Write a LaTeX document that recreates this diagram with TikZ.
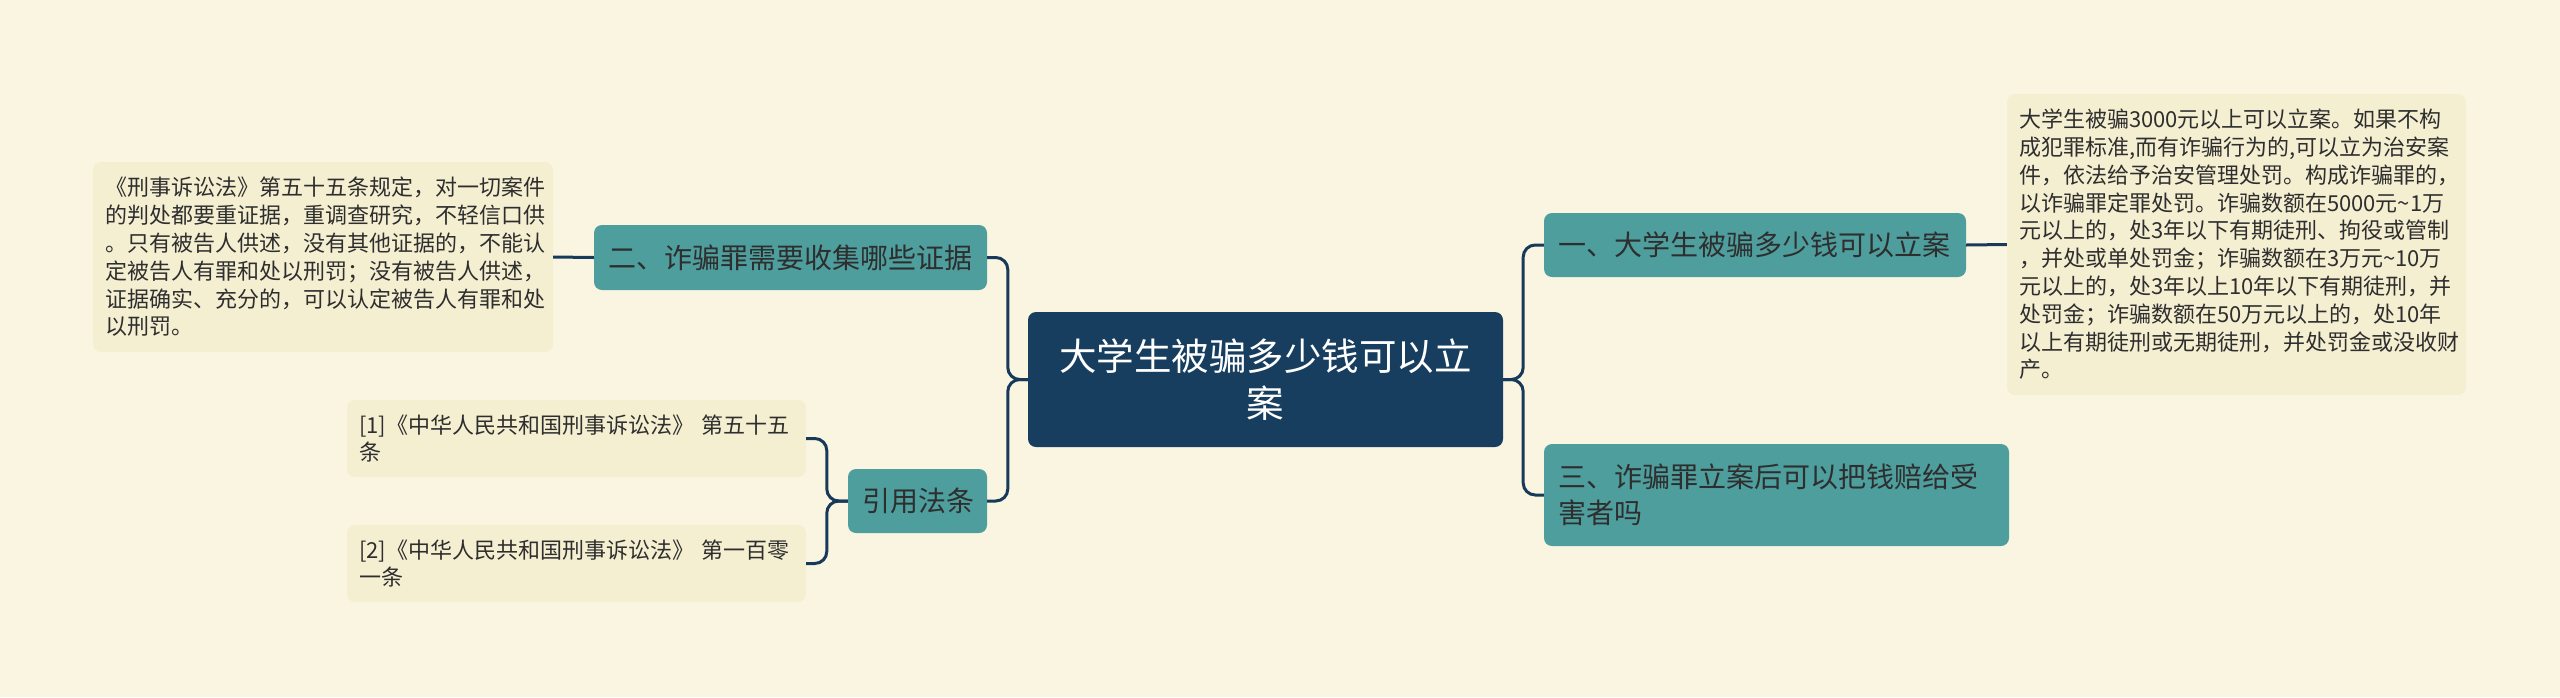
\documentclass[tikz,border=0pt]{standalone}
\usepackage{fontspec}
\setmainfont{Noto Sans CJK SC}
\definecolor{bg}{HTML}{FAF5E1}
\definecolor{navy}{HTML}{173E5F}
\definecolor{tealbox}{HTML}{4E9E9E}
\definecolor{notefill}{HTML}{F5EFD2}
\definecolor{darktext}{HTML}{2E2E2E}
\definecolor{linecol}{HTML}{173A5A}
\begin{document}
\begin{tikzpicture}[x=1pt,y=-1pt,
  box/.style={rectangle, rounded corners=8pt, inner ysep=0pt, anchor=center},
  root/.style={box, fill=navy, text=white, align=center, inner xsep=14pt, font=\fontsize{37.5}{46.7}\selectfont},
  topic/.style={box, fill=tealbox, text=darktext, align=left, inner xsep=14pt, font=\fontsize{28}{36}\selectfont},
  note/.style={box, fill=notefill, text=darktext, align=left, inner xsep=12pt, font=\fontsize{22}{27.8}\selectfont},
  link/.style={draw=linecol, line width=3pt, rounded corners=12pt}
]
\fill[bg] (0,0) rectangle (2560,697);
\useasboundingbox (0,0) rectangle (2560,697);

\node[root, text width=447pt, minimum width=475pt, minimum height=135pt] (c) at (1265.5,379.5) {大学生被骗多少钱可以立\\案};

\node[topic, text width=394pt, minimum height=64pt] (n1) at (1755,245) {一、大学生被骗多少钱可以立案};
\node[topic, text width=437pt, minimum height=102pt] (n3) at (1776.5,495) {三、诈骗罪立案后可以把钱赔给受\\害者吗};
\node[topic, text width=365pt, minimum height=65pt] (n2) at (790.5,257.5) {二、诈骗罪需要收集哪些证据};
\node[topic, text width=111pt, minimum height=64pt] (r) at (917.5,501) {引用法条};

\node[note, text width=435pt, minimum height=301pt] (t1) at (2236.5,244.5) {大学生被骗3000元以上可以立案。如果不构\\成犯罪标准,而有诈骗行为的,可以立为治安案\\件，依法给予治安管理处罚。构成诈骗罪的，\\以诈骗罪定罪处罚。诈骗数额在5000元\textasciitilde 1万\\元以上的，处3年以下有期徒刑、拘役或管制\\，并处或单处罚金；诈骗数额在3万元\textasciitilde 10万\\元以上的，处3年以上10年以下有期徒刑，并\\处罚金；诈骗数额在50万元以上的，处10年\\以上有期徒刑或无期徒刑，并处罚金或没收财\\产。};
\node[note, text width=436pt, minimum height=190pt] (t2) at (323,257) {《刑事诉讼法》第五十五条规定，对一切案件\\的判处都要重证据，重调查研究，不轻信口供\\。只有被告人供述，没有其他证据的，不能认\\定被告人有罪和处以刑罚；没有被告人供述，\\证据确实、充分的，可以认定被告人有罪和处\\以刑罚。};
\node[note, text width=435pt, minimum height=77pt] (ref1) at (576.5,438.5) {[1]《中华人民共和国刑事诉讼法》 第五十五\\条};
\node[note, text width=435pt, minimum height=77pt] (ref2) at (576.5,563.5) {[2]《中华人民共和国刑事诉讼法》 第一百零\\一条};

\draw[link] (c.east) -- ++(20,0) |- (n1.west);
\draw[link] (c.east) -- ++(20,0) |- (n3.west);
\draw[link] (c.west) -- ++(-20,0) |- (n2.east);
\draw[link] (c.west) -- ++(-20,0) |- (r.east);
\draw[link] (n1.east) -- (t1.west);
\draw[link] (n2.west) -- (t2.east);
\draw[link] (r.west) -- ++(-21,0) |- (ref1.east);
\draw[link] (r.west) -- ++(-21,0) |- (ref2.east);
\end{tikzpicture}
\end{document}
